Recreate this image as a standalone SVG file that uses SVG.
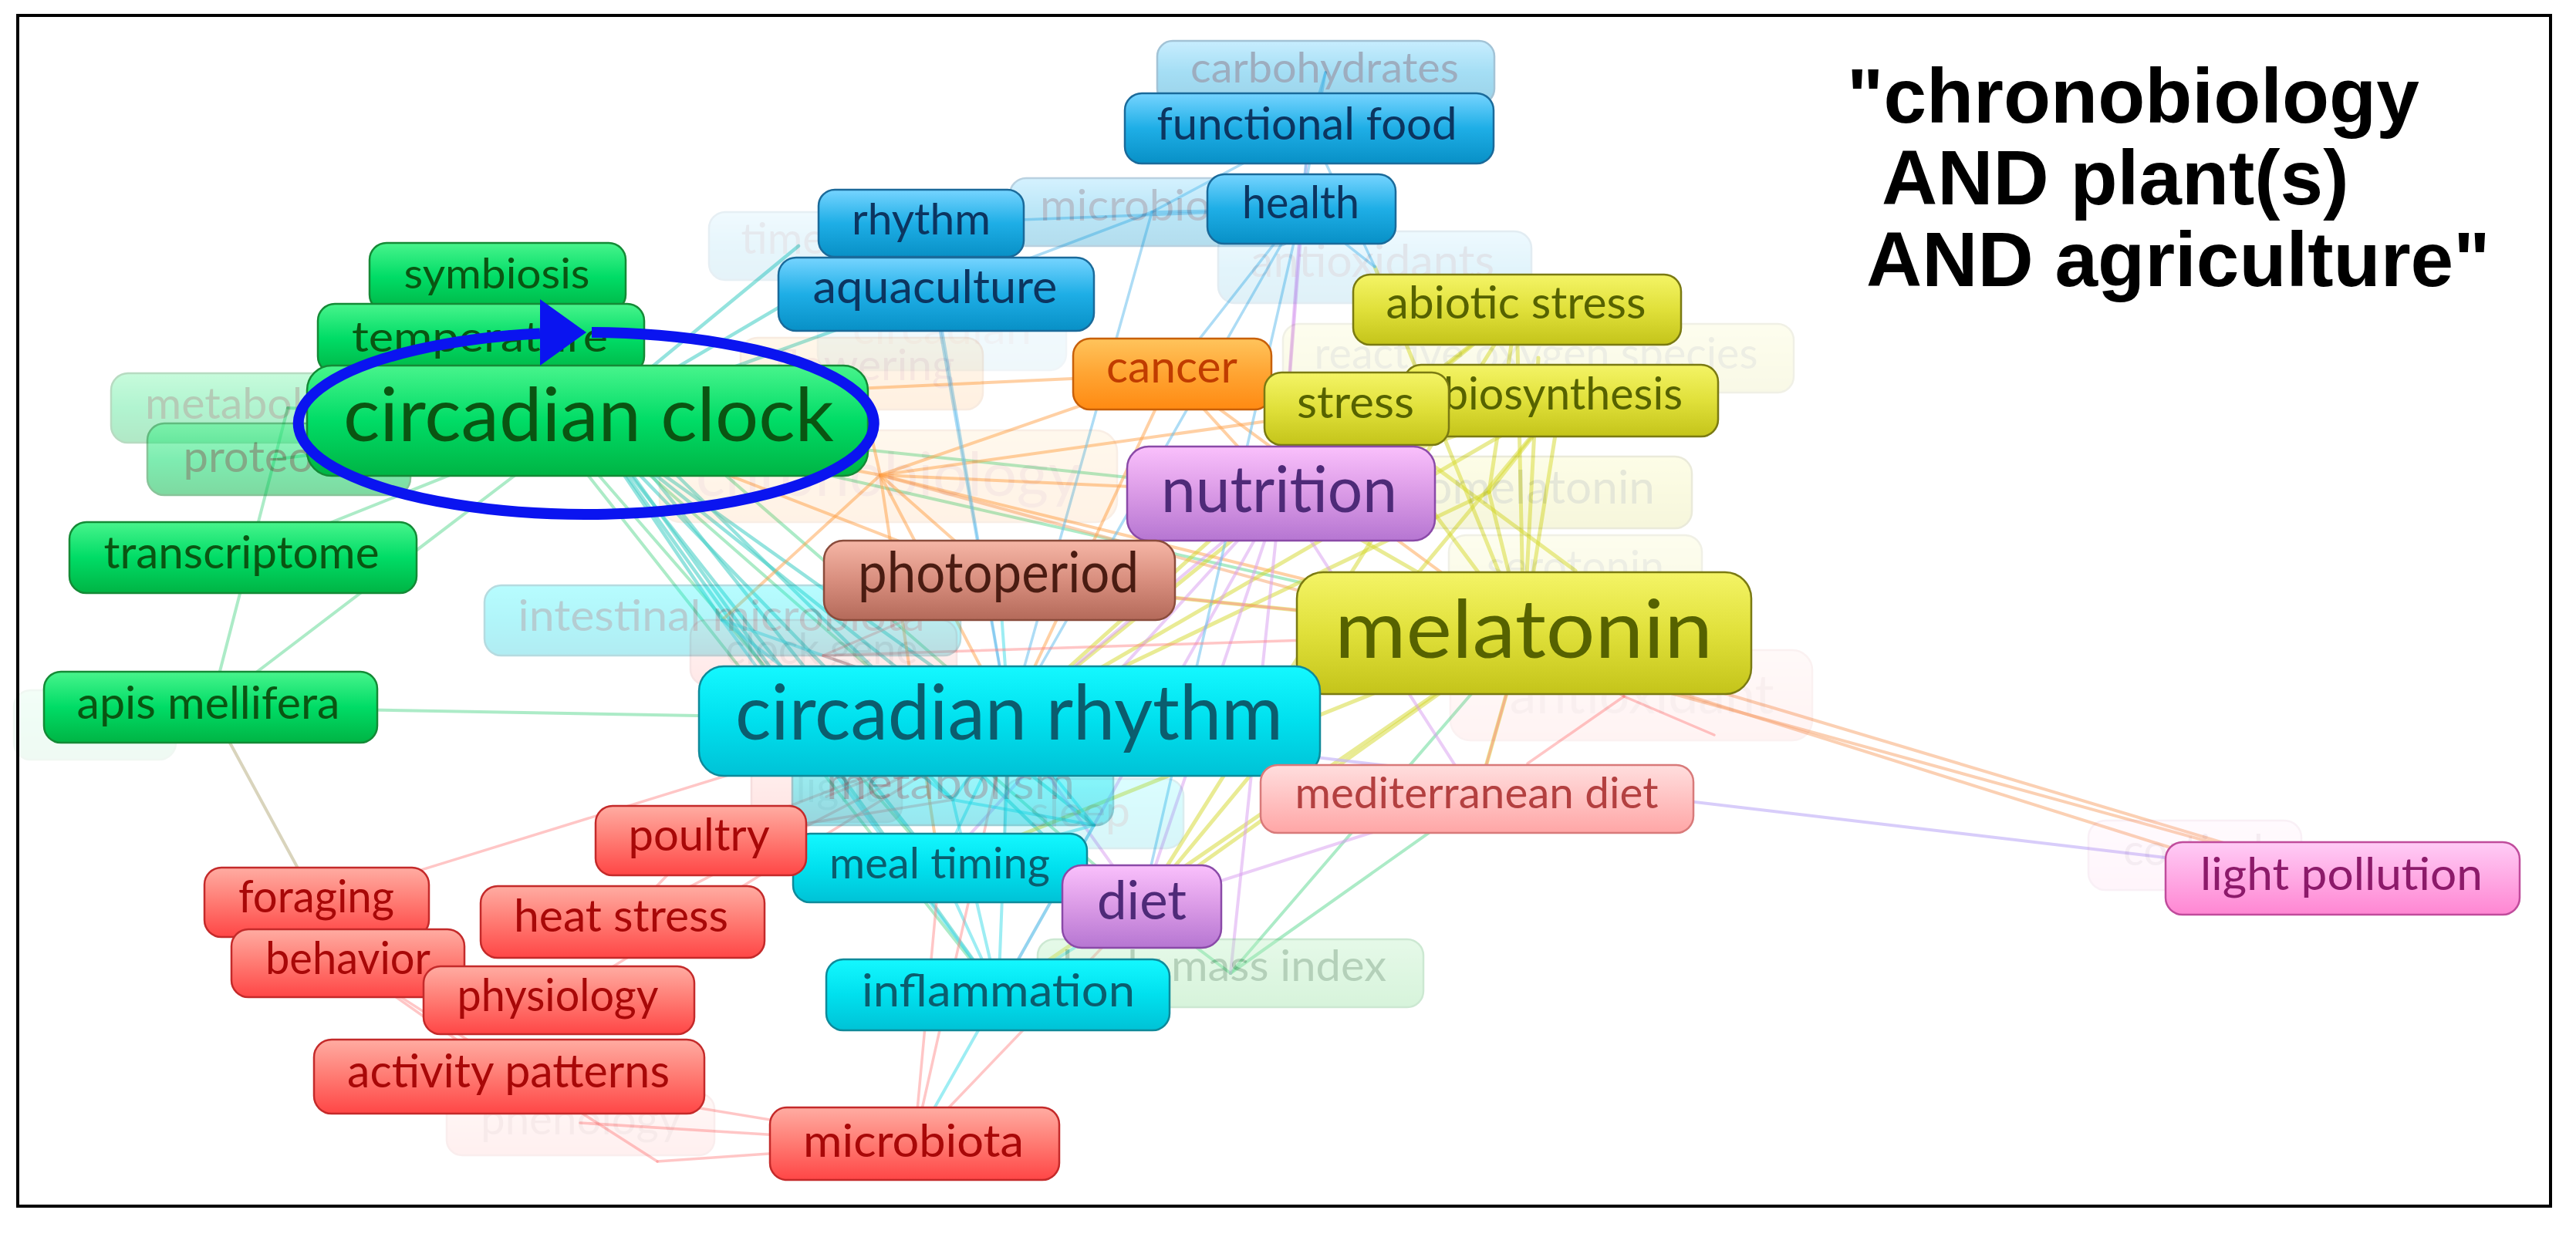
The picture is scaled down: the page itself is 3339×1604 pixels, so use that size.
<svg xmlns="http://www.w3.org/2000/svg" width="3339" height="1604" viewBox="0 0 3339 1604">
<defs>
<linearGradient id="gG" x1="0" y1="0" x2="0" y2="1"><stop offset="0" stop-color="#48f48c"/><stop offset="0.5" stop-color="#00dc66"/><stop offset="1" stop-color="#00b444"/></linearGradient>
<linearGradient id="gB" x1="0" y1="0" x2="0" y2="1"><stop offset="0" stop-color="#76d4ff"/><stop offset="0.5" stop-color="#1eaee6"/><stop offset="1" stop-color="#0890c6"/></linearGradient>
<linearGradient id="gY" x1="0" y1="0" x2="0" y2="1"><stop offset="0" stop-color="#f4f466"/><stop offset="0.5" stop-color="#e0e03a"/><stop offset="1" stop-color="#c4c41a"/></linearGradient>
<linearGradient id="gO" x1="0" y1="0" x2="0" y2="1"><stop offset="0" stop-color="#ffc45c"/><stop offset="0.5" stop-color="#ffa432"/><stop offset="1" stop-color="#ff8a12"/></linearGradient>
<linearGradient id="gP" x1="0" y1="0" x2="0" y2="1"><stop offset="0" stop-color="#fac0fc"/><stop offset="0.5" stop-color="#da9ae6"/><stop offset="1" stop-color="#b676d2"/></linearGradient>
<linearGradient id="gC" x1="0" y1="0" x2="0" y2="1"><stop offset="0" stop-color="#14f8ff"/><stop offset="0.5" stop-color="#00e0ee"/><stop offset="1" stop-color="#00c2d6"/></linearGradient>
<linearGradient id="gBr" x1="0" y1="0" x2="0" y2="1"><stop offset="0" stop-color="#f6b6a6"/><stop offset="0.5" stop-color="#d88e7e"/><stop offset="1" stop-color="#b46a5a"/></linearGradient>
<linearGradient id="gR" x1="0" y1="0" x2="0" y2="1"><stop offset="0" stop-color="#ffaca2"/><stop offset="0.5" stop-color="#ff7a72"/><stop offset="1" stop-color="#ff4646"/></linearGradient>
<linearGradient id="gRL" x1="0" y1="0" x2="0" y2="1"><stop offset="0" stop-color="#ffdede"/><stop offset="1" stop-color="#ffa6a6"/></linearGradient>
<linearGradient id="gPk" x1="0" y1="0" x2="0" y2="1"><stop offset="0" stop-color="#ffccf6"/><stop offset="1" stop-color="#ff86d2"/></linearGradient>
<linearGradient id="gLG" x1="0" y1="0" x2="0" y2="1"><stop offset="0" stop-color="#b8f0c0"/><stop offset="1" stop-color="#8ee09a"/></linearGradient>
</defs>
<style>
.nd rect{stroke-width:2.5}
.nd text{font-family:Lato,"Open Sans","Liberation Sans",sans-serif;text-anchor:middle}
.G rect{fill:url(#gG);stroke:#148a36}.G text{fill:#0a5512}
.B rect{fill:url(#gB);stroke:#1a6a9a}.B text{fill:#0c3560}
.Y rect{fill:url(#gY);stroke:#7a7a12}.Y text{fill:#566200}
.O rect{fill:url(#gO);stroke:#c8600a}.O text{fill:#c03c00}
.P rect{fill:url(#gP);stroke:#8a4aa8}.P text{fill:#4e2a78}
.C rect{fill:url(#gC);stroke:#0e8a9a}.C text{fill:#0b5d6e}
.Br rect{fill:url(#gBr);stroke:#8a4c3c}.Br text{fill:#4a1c12}
.R rect{fill:url(#gR);stroke:#c42a2a}.R text{fill:#a80808}
.RL rect{fill:url(#gRL);stroke:#d87a7a}.RL text{fill:#b34040}
.Pk rect{fill:url(#gPk);stroke:#c04c9c}.Pk text{fill:#8c1a6a}
.LG rect{fill:url(#gLG);stroke:#70c080}.LG text{fill:#2a7a3a}
#edges line{fill:none;stroke-linecap:round}
.eg{stroke:#5ad890;stroke-width:4;stroke-opacity:.5}
.et{stroke:#4cd0c8;stroke-width:4.5;stroke-opacity:.6}
.eo{stroke:#ffa24a;stroke-width:4;stroke-opacity:.5}
.ey{stroke:#d4d82a;stroke-width:5;stroke-opacity:.5}
.ep{stroke:#d89cf0;stroke-width:4;stroke-opacity:.5}
.el{stroke:#c8b8f8;stroke-width:4;stroke-opacity:.7}
.eb{stroke:#6ac0ec;stroke-width:3.5;stroke-opacity:.55}
.ec{stroke:#3cdce8;stroke-width:4;stroke-opacity:.5}
.er{stroke:#ff8080;stroke-width:3.5;stroke-opacity:.45}
.elp{stroke:#f8b080;stroke-width:4;stroke-opacity:.6}
.em{stroke:#c0b890;stroke-width:4;stroke-opacity:.6}
.title{font-family:"Liberation Sans",Arial,sans-serif;font-weight:bold;font-size:100px;fill:#000}
</style>
<rect x="0" y="0" width="3339" height="1604" fill="#ffffff"/>
<g id="edges">
<line class="eg" x1="273" y1="917" x2="1308" y2="935"/>
<line class="eg" x1="273" y1="917" x2="373" y2="529"/>
<line class="eg" x1="273" y1="917" x2="761" y2="545"/>
<line class="eg" x1="315" y1="723" x2="761" y2="545"/>
<line class="eg" x1="361" y1="595" x2="761" y2="545"/>
<line class="eg" x1="373" y1="529" x2="761" y2="545"/>
<line class="em" x1="273" y1="917" x2="410" y2="1170"/>
<line class="et" x1="761" y1="545" x2="1308" y2="935"/>
<line class="et" x1="761" y1="545" x2="1218" y2="1125"/>
<line class="et" x1="761" y1="545" x2="1294" y2="1290"/>
<line class="et" x1="761" y1="545" x2="1235" y2="1037"/>
<line class="et" x1="761" y1="545" x2="1418" y2="1070"/>
<line class="et" x1="800" y1="560" x2="1150" y2="1000"/>
<line class="et" x1="780" y1="560" x2="1080" y2="980"/>
<line class="et" x1="820" y1="560" x2="1380" y2="1110"/>
<line class="eg" x1="645" y1="360" x2="1308" y2="935"/>
<line class="eg" x1="623" y1="440" x2="1218" y2="1125"/>
<line class="eg" x1="623" y1="440" x2="1294" y2="1290"/>
<line class="eg" x1="761" y1="545" x2="1480" y2="1175"/>
<line class="et" x1="761" y1="545" x2="936" y2="804"/>
<line class="eg" x1="761" y1="545" x2="1975" y2="821"/>
<line class="eg" x1="761" y1="545" x2="1660" y2="640"/>
<line class="et" x1="761" y1="545" x2="1194" y2="290"/>
<line class="et" x1="761" y1="545" x2="1035" y2="319"/>
<line class="et" x1="761" y1="545" x2="1213" y2="381"/>
<line class="eg" x1="1595" y1="1262" x2="1914" y2="1036"/>
<line class="eg" x1="1595" y1="1262" x2="1480" y2="1175"/>
<line class="eg" x1="1595" y1="1262" x2="1975" y2="821"/>
<line class="eo" x1="1141" y1="616" x2="1519" y2="485"/>
<line class="eo" x1="1141" y1="616" x2="761" y2="545"/>
<line class="eo" x1="1141" y1="616" x2="1975" y2="821"/>
<line class="elp" x1="1141" y1="616" x2="3036" y2="1139"/>
<line class="eo" x1="1141" y1="616" x2="1295" y2="752"/>
<line class="eo" x1="1141" y1="616" x2="1660" y2="640"/>
<line class="eo" x1="1141" y1="616" x2="1308" y2="935"/>
<line class="eo" x1="1141" y1="616" x2="1111" y2="484"/>
<line class="eo" x1="1141" y1="616" x2="1758" y2="530"/>
<line class="eo" x1="1141" y1="616" x2="936" y2="804"/>
<line class="eo" x1="1141" y1="616" x2="1218" y2="1125"/>
<line class="eo" x1="1519" y1="485" x2="1975" y2="821"/>
<line class="eo" x1="1519" y1="485" x2="1308" y2="935"/>
<line class="eo" x1="1519" y1="485" x2="1660" y2="640"/>
<line class="eo" x1="1519" y1="485" x2="761" y2="520"/>
<line class="eo" x1="761" y1="545" x2="1295" y2="752"/>
<line class="ey" x1="1975" y1="821" x2="1966" y2="401"/>
<line class="ey" x1="1975" y1="821" x2="2023" y2="520"/>
<line class="ey" x1="1975" y1="821" x2="1758" y2="530"/>
<line class="ey" x1="1975" y1="821" x2="1930" y2="638"/>
<line class="ey" x1="1975" y1="821" x2="1994" y2="464"/>
<line class="ey" x1="1975" y1="821" x2="1308" y2="935"/>
<line class="ey" x1="1975" y1="821" x2="1660" y2="640"/>
<line class="ey" x1="1975" y1="821" x2="1480" y2="1175"/>
<line class="ey" x1="1975" y1="821" x2="1914" y2="1036"/>
<line class="ey" x1="1975" y1="821" x2="1295" y2="752"/>
<line class="ey" x1="1975" y1="821" x2="1218" y2="1125"/>
<line class="ey" x1="1975" y1="821" x2="1294" y2="1290"/>
<line class="ey" x1="1975" y1="821" x2="1782" y2="346"/>
<line class="elp" x1="1975" y1="821" x2="3036" y2="1139"/>
<line class="elp" x1="1975" y1="835" x2="2845" y2="1109"/>
<line class="ey" x1="2023" y1="520" x2="1308" y2="935"/>
<line class="ey" x1="1966" y1="401" x2="1308" y2="935"/>
<line class="ey" x1="1758" y1="530" x2="1308" y2="935"/>
<line class="ey" x1="2023" y1="520" x2="1660" y2="640"/>
<line class="ey" x1="1930" y1="638" x2="1308" y2="935"/>
<line class="ey" x1="1758" y1="530" x2="2042" y2="740"/>
<line class="ey" x1="1966" y1="401" x2="1660" y2="640"/>
<line class="ey" x1="2023" y1="520" x2="1480" y2="1175"/>
<line class="ey" x1="1966" y1="401" x2="1480" y2="1175"/>
<line class="ey" x1="1930" y1="638" x2="2023" y2="520"/>
<line class="ey" x1="1966" y1="401" x2="1930" y2="638"/>
<line class="ep" x1="1660" y1="640" x2="1480" y2="1175"/>
<line class="ep" x1="1660" y1="640" x2="1687" y2="271"/>
<line class="ep" x1="1660" y1="640" x2="1308" y2="935"/>
<line class="ep" x1="1660" y1="640" x2="1218" y2="1125"/>
<line class="ep" x1="1660" y1="640" x2="1595" y2="1262"/>
<line class="ep" x1="1660" y1="640" x2="1914" y2="1036"/>
<line class="ep" x1="1660" y1="640" x2="1697" y2="166"/>
<line class="ep" x1="1660" y1="640" x2="1294" y2="1290"/>
<line class="ep" x1="1480" y1="1175" x2="1308" y2="935"/>
<line class="ep" x1="1480" y1="1175" x2="1914" y2="1036"/>
<line class="el" x1="1308" y1="935" x2="3036" y2="1139"/>
<line class="eb" x1="1697" y1="166" x2="1687" y2="271"/>
<line class="eb" x1="1697" y1="166" x2="1718" y2="94"/>
<line class="eb" x1="1697" y1="166" x2="1493" y2="275"/>
<line class="eb" x1="1697" y1="166" x2="1782" y2="346"/>
<line class="eb" x1="1687" y1="271" x2="1194" y2="290"/>
<line class="eb" x1="1687" y1="271" x2="1493" y2="275"/>
<line class="eb" x1="1687" y1="271" x2="1782" y2="346"/>
<line class="eb" x1="1687" y1="271" x2="1519" y2="485"/>
<line class="eb" x1="1687" y1="271" x2="1308" y2="935"/>
<line class="eb" x1="1493" y1="275" x2="1213" y2="381"/>
<line class="eb" x1="1194" y1="290" x2="1213" y2="381"/>
<line class="eb" x1="1213" y1="381" x2="1308" y2="935"/>
<line class="eb" x1="1194" y1="290" x2="1308" y2="935"/>
<line class="eb" x1="1493" y1="275" x2="1308" y2="935"/>
<line class="eb" x1="1718" y1="94" x2="1687" y2="271"/>
<line class="eb" x1="1687" y1="271" x2="1480" y2="1175"/>
<line class="ec" x1="1308" y1="935" x2="1218" y2="1125"/>
<line class="ec" x1="1308" y1="935" x2="1294" y2="1290"/>
<line class="ec" x1="1308" y1="935" x2="1235" y2="1037"/>
<line class="ec" x1="1308" y1="935" x2="1418" y2="1070"/>
<line class="ec" x1="1308" y1="935" x2="936" y2="804"/>
<line class="ec" x1="1308" y1="935" x2="1295" y2="752"/>
<line class="ec" x1="1218" y1="1125" x2="1294" y2="1290"/>
<line class="ec" x1="1235" y1="1037" x2="1418" y2="1070"/>
<line class="ec" x1="1218" y1="1125" x2="1418" y2="1070"/>
<line class="ec" x1="1294" y1="1290" x2="1480" y2="1175"/>
<line class="ec" x1="1294" y1="1290" x2="1418" y2="1070"/>
<line class="ec" x1="1235" y1="1037" x2="1294" y2="1290"/>
<line class="ec" x1="936" y1="804" x2="1235" y2="1037"/>
<line class="ec" x1="936" y1="804" x2="1294" y2="1290"/>
<line class="ec" x1="1294" y1="1290" x2="1185" y2="1483"/>
<line class="er" x1="410" y1="1170" x2="1300" y2="895"/>
<line class="er" x1="451" y1="1249" x2="660" y2="1396"/>
<line class="er" x1="451" y1="1249" x2="852" y2="1506"/>
<line class="er" x1="852" y1="1506" x2="1185" y2="1483"/>
<line class="er" x1="660" y1="1396" x2="1185" y2="1483"/>
<line class="er" x1="752" y1="1456" x2="1185" y2="1483"/>
<line class="er" x1="724" y1="1297" x2="1308" y2="935"/>
<line class="er" x1="807" y1="1195" x2="1308" y2="935"/>
<line class="er" x1="807" y1="1195" x2="908" y2="1090"/>
<line class="er" x1="908" y1="1090" x2="1308" y2="935"/>
<line class="er" x1="908" y1="1090" x2="1235" y2="1037"/>
<line class="er" x1="1185" y1="1483" x2="1308" y2="935"/>
<line class="er" x1="1185" y1="1483" x2="1218" y2="1125"/>
<line class="er" x1="1185" y1="1483" x2="1480" y2="1175"/>
<line class="er" x1="1067" y1="850" x2="1308" y2="935"/>
<line class="er" x1="1067" y1="850" x2="1295" y2="752"/>
<line class="er" x1="1067" y1="850" x2="1975" y2="821"/>
<line class="er" x1="1071" y1="1033" x2="1308" y2="935"/>
<line class="er" x1="1914" y1="1036" x2="1975" y2="821"/>
<line class="er" x1="2105" y1="903" x2="1975" y2="821"/>
<line class="er" x1="2105" y1="903" x2="1980" y2="990"/>
<line class="er" x1="2105" y1="903" x2="2222" y2="953"/>
<line class="er" x1="1295" y1="752" x2="1975" y2="821"/>
</g>
<g id="faded-nodes">
<g id="n-left-faint" class="nd G" opacity="0.06"><rect x="18" y="895" width="210" height="90" rx="22"/></g>
<g id="n-carbohydrates" class="nd B" opacity="0.4"><rect x="1500" y="53" width="437" height="82" rx="20"/><text x="1717" y="107" font-size="55" textLength="348" lengthAdjust="spacingAndGlyphs">carbohydrates</text></g>
<g id="n-microbiota-b" class="nd B" opacity="0.3"><rect x="1309" y="231" width="368" height="88" rx="21"/><text x="1483" y="286" font-size="56" textLength="270" lengthAdjust="spacingAndGlyphs">microbiota</text></g>
<g id="n-antioxidants" class="nd B" opacity="0.12"><rect x="1579" y="300" width="406" height="93" rx="22"/><text x="1779" y="359" font-size="58" textLength="316" lengthAdjust="spacingAndGlyphs">antioxidants</text></g>
<g id="n-time" class="nd B" opacity="0.1"><rect x="919" y="275" width="220" height="88" rx="21"/><text x="1015" y="329" font-size="56" textLength="109" lengthAdjust="spacingAndGlyphs">time</text></g>
<g id="n-circadian" class="nd B" opacity="0.06"><rect x="1060" y="392" width="322" height="88" rx="21"/><text x="1221" y="446" font-size="56" textLength="232" lengthAdjust="spacingAndGlyphs">circadian</text></g>
<g id="n-metabolomics" class="nd G" opacity="0.3"><rect x="144" y="484" width="420" height="90" rx="22"/><text x="363" y="543" font-size="57" textLength="350" lengthAdjust="spacingAndGlyphs">metabolomics</text></g>
<g id="n-flowering" class="nd O" opacity="0.12"><rect x="960" y="438" width="314" height="93" rx="22"/><text x="1120" y="493" font-size="57" textLength="235" lengthAdjust="spacingAndGlyphs">flowering</text></g>
<g id="n-chronobiology" class="nd O" opacity="0.1"><rect x="855" y="558" width="593" height="119" rx="28"/><text x="1151" y="643" font-size="80" textLength="498" lengthAdjust="spacingAndGlyphs">chronobiology</text></g>
<g id="n-ros" class="nd Y" opacity="0.1"><rect x="1663" y="420" width="662" height="89" rx="21"/><text x="1991" y="478" font-size="57" textLength="575" lengthAdjust="spacingAndGlyphs">reactive oxygen species</text></g>
<g id="n-phytomelatonin" class="nd Y" opacity="0.15"><rect x="1670" y="592" width="523" height="93" rx="22"/><text x="1937" y="653" font-size="60" textLength="416" lengthAdjust="spacingAndGlyphs">phytomelatonin</text></g>
<g id="n-serotonin" class="nd Y" opacity="0.1"><rect x="1878" y="694" width="328" height="90" rx="22"/><text x="2042" y="754" font-size="57" textLength="230" lengthAdjust="spacingAndGlyphs">serotonin</text></g>
<g id="n-antioxidant" class="nd R" opacity="0.06"><rect x="1880" y="843" width="469" height="117" rx="26"/><text x="2128" y="925" font-size="70" textLength="343" lengthAdjust="spacingAndGlyphs">antioxidant</text></g>
<g id="n-intestinal-microbiota" class="nd C" opacity="0.3"><rect x="628" y="759" width="617" height="91" rx="22"/><text x="935" y="818" font-size="57" textLength="527" lengthAdjust="spacingAndGlyphs">intestinal microbiota</text></g>
<g id="n-clock-gene" class="nd R" opacity="0.12"><rect x="895" y="804" width="345" height="84" rx="20"/><text x="1065" y="861" font-size="57" textLength="249" lengthAdjust="spacingAndGlyphs">clock gene</text></g>
<g id="n-light" class="nd R" opacity="0.15"><rect x="974" y="980" width="195" height="86" rx="20"/><text x="1085" y="1040" font-size="57" textLength="107" lengthAdjust="spacingAndGlyphs">light</text></g>
<g id="n-metabolism" class="nd C" opacity="0.4"><rect x="1027" y="980" width="416" height="90" rx="22"/><text x="1232" y="1036" font-size="60" textLength="322" lengthAdjust="spacingAndGlyphs">metabolism</text></g>
<g id="n-sleep" class="nd C" opacity="0.15"><rect x="1302" y="1010" width="232" height="90" rx="22"/><text x="1400" y="1072" font-size="57" textLength="130" lengthAdjust="spacingAndGlyphs">sleep</text></g>
<g id="n-bmi" class="nd LG" opacity="0.35"><rect x="1345" y="1218" width="500" height="88" rx="21"/><text x="1587" y="1272" font-size="57" textLength="420" lengthAdjust="spacingAndGlyphs">body mass index</text></g>
<g id="n-phenology" class="nd R" opacity="0.08"><rect x="579" y="1418" width="347" height="80" rx="20"/><text x="753" y="1471" font-size="57" textLength="260" lengthAdjust="spacingAndGlyphs">phenology</text></g>
<g id="n-cortisol" class="nd Pk" opacity="0.08"><rect x="2707" y="1064" width="276" height="90" rx="22"/><text x="2843" y="1122" font-size="57" textLength="182" lengthAdjust="spacingAndGlyphs">cortisol</text></g>
</g>
<g id="nodes">
<g id="n-proteome" class="nd G" opacity="0.5"><rect x="191" y="549" width="341" height="93" rx="22"/><text x="361" y="612" font-size="57" textLength="247" lengthAdjust="spacingAndGlyphs">proteome</text></g>
<g id="n-symbiosis" class="nd G"><rect x="479" y="315" width="332" height="89" rx="22"/><text x="644" y="374" font-size="54" textLength="241" lengthAdjust="spacingAndGlyphs">symbiosis</text></g>
<g id="n-temperature" class="nd G"><rect x="412" y="394" width="423" height="90" rx="22"/><text x="622" y="456" font-size="55" textLength="332" lengthAdjust="spacingAndGlyphs">temperature</text></g>
<g id="n-circadian-clock" class="nd G"><rect x="398" y="474" width="727" height="143" rx="32"/><text x="763" y="572" font-size="97" textLength="636" lengthAdjust="spacingAndGlyphs">circadian clock</text></g>
<g id="n-transcriptome" class="nd G"><rect x="90" y="677" width="450" height="92" rx="22"/><text x="313" y="737" font-size="58" textLength="357" lengthAdjust="spacingAndGlyphs">transcriptome</text></g>
<g id="n-apis-mellifera" class="nd G"><rect x="57" y="871" width="432" height="92" rx="22"/><text x="270" y="932" font-size="58" textLength="341" lengthAdjust="spacingAndGlyphs">apis mellifera</text></g>
<g id="n-functional-food" class="nd B"><rect x="1458" y="121" width="478" height="91" rx="22"/><text x="1694" y="181" font-size="58" textLength="389" lengthAdjust="spacingAndGlyphs">functional food</text></g>
<g id="n-rhythm" class="nd B"><rect x="1061" y="246" width="266" height="87" rx="21"/><text x="1194" y="304" font-size="57" textLength="180" lengthAdjust="spacingAndGlyphs">rhythm</text></g>
<g id="n-health" class="nd B"><rect x="1565" y="226" width="244" height="90" rx="22"/><text x="1686" y="283" font-size="58" textLength="152" lengthAdjust="spacingAndGlyphs">health</text></g>
<g id="n-aquaculture" class="nd B"><rect x="1009" y="334" width="409" height="95" rx="23"/><text x="1212" y="393" font-size="60" textLength="317" lengthAdjust="spacingAndGlyphs">aquaculture</text></g>
<g id="n-abiotic-stress" class="nd Y"><rect x="1754" y="356" width="425" height="91" rx="22"/><text x="1965" y="413" font-size="58" textLength="337" lengthAdjust="spacingAndGlyphs">abiotic stress</text></g>
<g id="n-cancer" class="nd O"><rect x="1391" y="439" width="257" height="92" rx="22"/><text x="1519" y="496" font-size="58" textLength="170" lengthAdjust="spacingAndGlyphs">cancer</text></g>
<g id="n-biosynthesis" class="nd Y"><rect x="1820" y="473" width="407" height="93" rx="22"/><text x="2026" y="531" font-size="58" textLength="310" lengthAdjust="spacingAndGlyphs">biosynthesis</text></g>
<g id="n-stress" class="nd Y"><rect x="1639" y="483" width="239" height="94" rx="22"/><text x="1757" y="542" font-size="58" textLength="152" lengthAdjust="spacingAndGlyphs">stress</text></g>
<g id="n-nutrition" class="nd P"><rect x="1461" y="579" width="399" height="122" rx="28"/><text x="1658" y="664" font-size="83" textLength="306" lengthAdjust="spacingAndGlyphs">nutrition</text></g>
<g id="n-photoperiod" class="nd Br"><rect x="1068" y="701" width="455" height="103" rx="25"/><text x="1294" y="768" font-size="73" textLength="364" lengthAdjust="spacingAndGlyphs">photoperiod</text></g>
<g id="n-melatonin" class="nd Y"><rect x="1681" y="742" width="589" height="158" rx="34"/><text x="1975" y="853" font-size="104" textLength="490" lengthAdjust="spacingAndGlyphs">melatonin</text></g>
<g id="n-circadian-rhythm" class="nd C"><rect x="906" y="864" width="805" height="142" rx="32"/><text x="1308" y="959" font-size="99" textLength="710" lengthAdjust="spacingAndGlyphs">circadian rhythm</text></g>
<g id="n-mediterranean-diet" class="nd RL"><rect x="1634" y="992" width="561" height="88" rx="22"/><text x="1914" y="1048" font-size="57" textLength="471" lengthAdjust="spacingAndGlyphs">mediterranean diet</text></g>
<g id="n-meal-timing" class="nd C"><rect x="1028" y="1081" width="381" height="89" rx="22"/><text x="1218" y="1139" font-size="57" textLength="286" lengthAdjust="spacingAndGlyphs">meal timing</text></g>
<g id="n-poultry" class="nd R"><rect x="772" y="1045" width="273" height="90" rx="22"/><text x="906" y="1103" font-size="58" textLength="183" lengthAdjust="spacingAndGlyphs">poultry</text></g>
<g id="n-diet" class="nd P"><rect x="1377" y="1122" width="206" height="107" rx="25"/><text x="1480" y="1192" font-size="69" textLength="116" lengthAdjust="spacingAndGlyphs">diet</text></g>
<g id="n-inflammation" class="nd C"><rect x="1071" y="1244" width="445" height="92" rx="22"/><text x="1294" y="1305" font-size="58" textLength="354" lengthAdjust="spacingAndGlyphs">inflammation</text></g>
<g id="n-foraging" class="nd R"><rect x="265" y="1125" width="291" height="90" rx="22"/><text x="410" y="1183" font-size="58" textLength="202" lengthAdjust="spacingAndGlyphs">foraging</text></g>
<g id="n-heat-stress" class="nd R"><rect x="623" y="1149" width="368" height="93" rx="22"/><text x="805" y="1208" font-size="58" textLength="278" lengthAdjust="spacingAndGlyphs">heat stress</text></g>
<g id="n-behavior" class="nd R"><rect x="300" y="1205" width="302" height="88" rx="22"/><text x="451" y="1263" font-size="58" textLength="214" lengthAdjust="spacingAndGlyphs">behavior</text></g>
<g id="n-physiology" class="nd R"><rect x="549" y="1253" width="351" height="88" rx="22"/><text x="723" y="1311" font-size="58" textLength="261" lengthAdjust="spacingAndGlyphs">physiology</text></g>
<g id="n-activity-patterns" class="nd R"><rect x="407" y="1348" width="506" height="96" rx="23"/><text x="659" y="1410" font-size="60" textLength="418" lengthAdjust="spacingAndGlyphs">activity patterns</text></g>
<g id="n-microbiota-r" class="nd R"><rect x="998" y="1436" width="375" height="94" rx="22"/><text x="1184" y="1500" font-size="58" textLength="286" lengthAdjust="spacingAndGlyphs">microbiota</text></g>
<g id="n-light-pollution" class="nd Pk"><rect x="2807" y="1092" width="459" height="94" rx="22"/><text x="3035" y="1154" font-size="58" textLength="366" lengthAdjust="spacingAndGlyphs">light pollution</text></g>
</g>
<g id="annotation">
<path d="M 767 431 A 373 118 0 1 1 700 432.5" fill="none" stroke="#0a14f0" stroke-width="14"/>
<polygon points="700,388 760,431 700,474" fill="#0a14f0"/>
</g>
<g id="title">
<text class="title" x="2394" y="159">"chronobiology</text>
<text class="title" x="2439" y="265">AND plant(s)</text>
<text class="title" x="2419" y="371">AND agriculture"</text>
</g>
<rect x="23" y="20" width="3283" height="1544" fill="none" stroke="#000" stroke-width="4"/>
</svg>
